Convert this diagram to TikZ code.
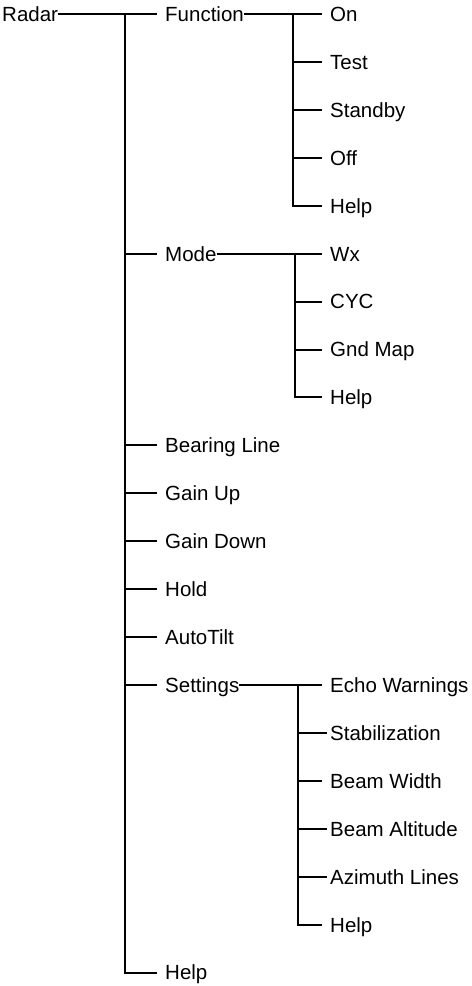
\documentclass[tikz,border=0pt]{standalone}
\usepackage{fontspec}
\setmainfont{Liberation Sans}
\begin{document}
\begin{tikzpicture}[x=1bp,y=-47.93bp,
  lbl/.style={anchor=west, inner xsep=0pt, inner ysep=0pt, text height=14.7bp, text depth=0pt, font=\fontsize{20.5bp}{24bp}\selectfont},
  wire/.style={line width=2bp},
  br/.style={wire, shorten >=8bp},
  brnear/.style={wire, shorten >=3.5bp}]
\useasboundingbox (0,-0.2921) rectangle (472,20.2796);
% root
\node[lbl] (radar) at (2,0) {Radar};
% level 1
\node[lbl] (function) at (165,0) {Function};
\node[lbl] (mode) at (165,5) {Mode};
\node[lbl] (bearing) at (165,9) {Bearing Line};
\node[lbl] (gainup) at (165,10) {Gain Up};
\node[lbl] (gaindown) at (165,11) {Gain Down};
\node[lbl] (hold) at (165,12) {Hold};
\node[lbl] (autotilt) at (165,13) {AutoTilt};
\node[lbl] (settings) at (165,14) {Settings};
\node[lbl] (mhelp) at (165,20) {Help};
% function children
\node[lbl] (on) at (330,0) {On};
\node[lbl] (test) at (330,1) {Test};
\node[lbl] (standby) at (330,2) {Standby};
\node[lbl] (off) at (330,3) {Off};
\node[lbl] (fhelp) at (330,4) {Help};
% mode children
\node[lbl] (wx) at (330,5) {Wx};
\node[lbl] (cyc) at (330,6) {CYC};
\node[lbl] (gnd) at (330,7) {Gnd Map};
\node[lbl] (mohelp) at (330,8) {Help};
% settings children
\node[lbl] (echo) at (330,14) {Echo Warnings};
\node[lbl] (stab) at (330,15) {Stabilization};
\node[lbl] (bw) at (330,16) {Beam Width};
\node[lbl] (ba) at (330,17) {Beam Altitude};
\node[lbl] (az) at (330,18) {Azimuth Lines};
\node[lbl] (shelp) at (330,19) {Help};
% junctions
\coordinate (t0) at (125,0);
\coordinate (ft) at (293,0);
\coordinate (mt) at (295,5);
\coordinate (st) at (298,14);
% main trunk
\draw[br] (radar.east) -- (function.west);
\draw[br] (t0) |- (mhelp.west);
\foreach \n in {mode,bearing,gainup,gaindown,hold,autotilt,settings}
  \draw[br] (\n.west -| t0) -- (\n.west);
% function
\draw[br] (function.east) -- (on.west);
\draw[br] (ft) |- (fhelp.west);
\foreach \n in {test,standby,off}
  \draw[br] (\n.west -| ft) -- (\n.west);
% mode
\draw[br] (mode.east) -- (wx.west);
\draw[br] (mt) |- (mohelp.west);
\foreach \n in {cyc,gnd}
  \draw[br] (\n.west -| mt) -- (\n.west);
% settings
\draw[br] (settings.east) -- (echo.west);
\draw[br] (st) |- (shelp.west);
\draw[br] (bw.west -| st) -- (bw.west);
\foreach \n in {stab,ba,az}
  \draw[brnear] (\n.west -| st) -- (\n.west);
\end{tikzpicture}
\end{document}
